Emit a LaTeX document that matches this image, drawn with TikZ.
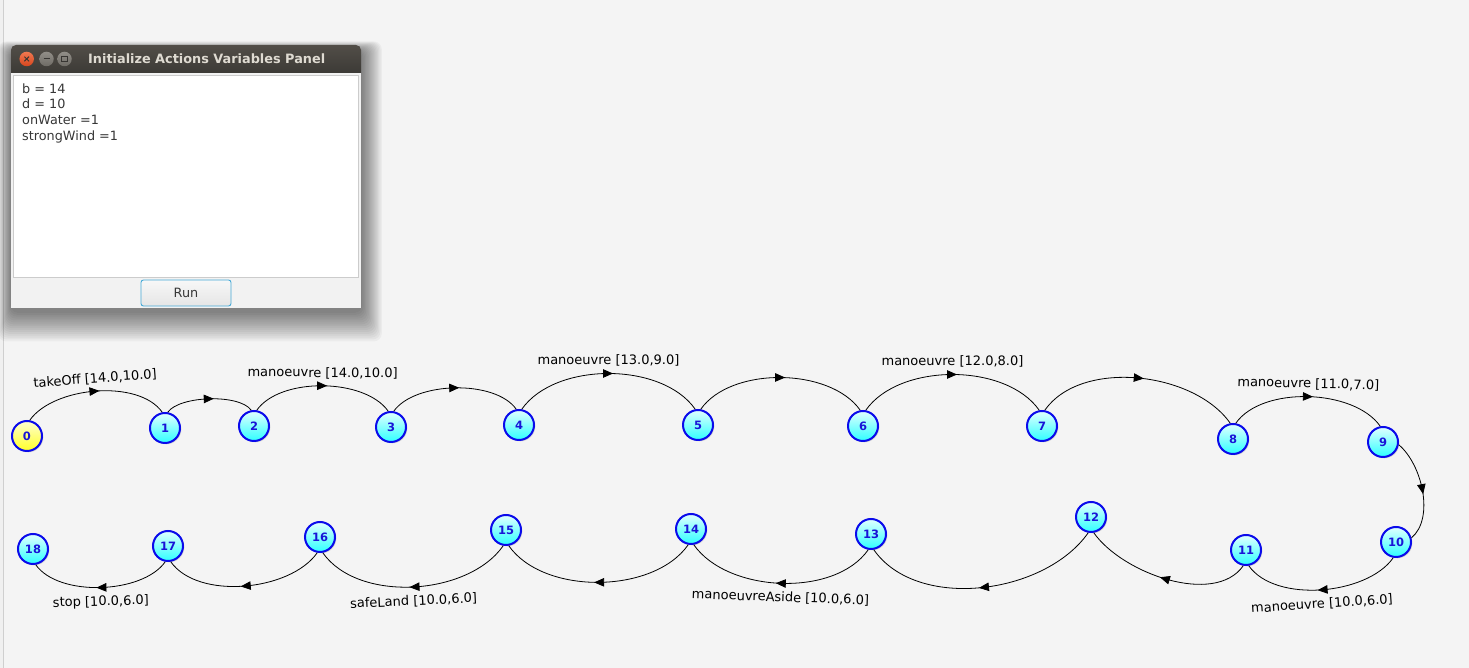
\documentclass[tikz,border=0pt]{standalone}
\usepackage{fontspec}
\setmainfont{DejaVu Sans}
\usetikzlibrary{arrows.meta,decorations.markings,shadows}
\definecolor{bg}{RGB}{244,244,244}
\definecolor{winbg}{RGB}{242,242,242}
\definecolor{nodeblue}{RGB}{10,10,235}
\definecolor{labblue}{RGB}{25,20,215}
\definecolor{tbtop}{RGB}{82,78,72}
\definecolor{tbbot}{RGB}{60,58,54}
\definecolor{titletext}{RGB}{223,219,210}
\definecolor{closeA}{RGB}{240,120,80}
\definecolor{closeB}{RGB}{215,70,30}
\definecolor{btnA}{RGB}{145,142,136}
\definecolor{btnB}{RGB}{110,107,101}
\definecolor{symb}{RGB}{55,53,50}
\definecolor{wintext}{RGB}{55,55,55}
\definecolor{runblue}{RGB}{70,170,215}
\begin{document}
\begin{tikzpicture}[x=1pt,y=1pt,
  st/.style={circle, minimum size=30pt, inner sep=0pt, line width=2pt,
    draw=nodeblue, top color=cyan!12!white, bottom color=cyan!82!white,
    drop shadow={shadow xshift=1.3pt,shadow yshift=-1.3pt,opacity=0.3},
    font=\fontsize{11.5}{11.5}\selectfont\bfseries, text=labblue},
  init/.style={st, top color=yellow!18!white, bottom color=yellow!85!white},
  tr/.style={line width=0.8pt, black, postaction={decorate},
    decoration={markings, mark=at position 0.5 with {\arrow[xshift=4.5pt]{Triangle[length=10pt,width=8.5pt]}}}},
  lab/.style={font=\fontsize{13}{13}\selectfont, inner sep=2pt, sloped, text=black},
  wtxt/.style={anchor=base west, inner sep=0pt, font=\fontsize{12.8}{13}\selectfont, text=wintext},
  tbtn/.style={circle, minimum size=14.5pt, inner sep=0pt},
]
\useasboundingbox (0,0) rectangle (1469,668);
\fill[bg] (0,0) rectangle (1469,668);
\fill[gray!12] (0,0) rectangle (3,668);
\draw[gray!38, line width=1pt] (3.5,0) -- (3.5,668);

% window shadow
\foreach \i in {1,...,16} {
  \fill[black, opacity=0.036, rounded corners=8pt] (11-0.8*\i,357-1.9*\i) rectangle (361+1.3*\i,617+0.6*\i);
}
% window
\fill[winbg] (11,360) rectangle (361,595);
\path[top color=tbtop, bottom color=tbbot] (11,595) -- (11,618) arc[start angle=180,end angle=90,radius=5] -- (356,623) arc[start angle=90,end angle=0,radius=5] -- (361,595) -- cycle;
\node[text=titletext, inner sep=0pt] (title) at (206.7,609) {\resizebox{237pt}{!}{\bfseries Initialize Actions Variables Panel}};
\node[tbtn, top color=closeA, bottom color=closeB] (bclose) at (26.7,609) {};
\draw[symb, line width=1pt] ([shift={(-2.3,-2.3)}]bclose.center) -- ([shift={(2.3,2.3)}]bclose.center);
\draw[symb, line width=1pt] ([shift={(-2.3,2.3)}]bclose.center) -- ([shift={(2.3,-2.3)}]bclose.center);
\node[tbtn, top color=btnA, bottom color=btnB] (bmin) at (46.5,609) {};
\draw[symb, line width=1pt] ([xshift=-3pt]bmin.center) -- ([xshift=3pt]bmin.center);
\node[tbtn, top color=btnA, bottom color=btnB] (bmax) at (64.5,609) {};
\draw[symb, line width=0.9pt] ([shift={(-2.8,-2.8)}]bmax.center) rectangle ([shift={(2.8,2.8)}]bmax.center);
\filldraw[fill=white, draw=gray!40, line width=0.8pt] (13.5,391) rectangle (358.5,592.5);
\node[wtxt] (v1) at (22,574.7) {b = 14};
\node[wtxt] (v2) at (22,559) {d = 10};
\node[wtxt] (v3) at (22,543) {onWater =1};
\node[wtxt] (v4) at (22,527.3) {strongWind =1};
\node[draw=runblue, line width=0.9pt, rounded corners=2.5pt, top color=white!97!black, bottom color=black!10,
  minimum width=90pt, minimum height=26pt, inner sep=0pt, font=\fontsize{12.8}{13}\selectfont, text=wintext] (run) at (186,375) {Run};

% states
\node[init] (n0) at (27,232) {0};
\node[st] (n1) at (165,240) {1};
\node[st] (n2) at (254,242) {2};
\node[st] (n3) at (391,241) {3};
\node[st] (n4) at (519,243) {4};
\node[st] (n5) at (698,243) {5};
\node[st] (n6) at (863,242) {6};
\node[st] (n7) at (1042,242) {7};
\node[st] (n8) at (1233,229) {8};
\node[st] (n9) at (1383,226) {9};
\node[st] (n10) at (1396,126) {10};
\node[st] (n11) at (1246,118) {11};
\node[st] (n12) at (1091,151) {12};
\node[st] (n13) at (871,134) {13};
\node[st] (n14) at (691,139) {14};
\node[st] (n15) at (506,138) {15};
\node[st] (n16) at (320,131) {16};
\node[st] (n17) at (168,122) {17};
\node[st] (n18) at (33,119) {18};

% transitions, top row
\draw[tr] (n0.80) to[out=55,in=125,looseness=0.79] node[lab,above=4pt]{takeOff [14.0,10.0]} (n1.100);
\draw[tr] (n1.80) to[out=55,in=125,looseness=0.62] (n2.100);
\draw[tr] (n2.80) to[out=55,in=125,looseness=0.79] node[lab,above=4.5pt]{manoeuvre [14.0,10.0]} (n3.100);
\draw[tr] (n3.80) to[out=55,in=125,looseness=0.76] (n4.100);
\draw[tr] (n4.80) to[out=55,in=125,looseness=0.86] node[lab,above=4.5pt]{manoeuvre [13.0,9.0]} (n5.100);
\draw[tr] (n5.80) to[out=55,in=125,looseness=0.84] (n6.100);
\draw[tr] (n6.80) to[out=55,in=125,looseness=0.86] node[lab,above=4.5pt]{manoeuvre [12.0,8.0]} (n7.100);
\draw[tr] (n7.80) to[out=55,in=125,looseness=0.87] (n8.100);
\draw[tr] (n8.80) to[out=55,in=125,looseness=0.81] node[lab,above=4.5pt]{manoeuvre [11.0,7.0]} (n9.100);
% right turn
\draw[tr] (n9.-10) to[out=-40,in=40,looseness=0.83] (n10.15);
% bottom row
\draw[tr] (n10.-100) to[out=-125,in=-55,looseness=0.81] node[lab,below=6pt]{manoeuvre [10.0,6.0]} (n11.-80);
\draw[tr] (n11.-100) to[out=-125,in=-55,looseness=0.83] (n12.-80);
\draw[tr] (n12.-100) to[out=-125,in=-55,looseness=0.90] (n13.-80);
\draw[tr] (n13.-100) to[out=-125,in=-55,looseness=0.86] node[lab,below=6pt]{manoeuvreAside [10.0,6.0]} (n14.-80);
\draw[tr] (n14.-100) to[out=-125,in=-55,looseness=0.86] (n15.-80);
\draw[tr] (n15.-100) to[out=-125,in=-55,looseness=0.87] node[lab,below=6pt]{safeLand [10.0,6.0]} (n16.-80);
\draw[tr] (n16.-100) to[out=-125,in=-55,looseness=0.82] (n17.-80);
\draw[tr] (n17.-100) to[out=-125,in=-55,looseness=0.78] node[lab,below=6pt]{stop [10.0,6.0]} (n18.-80);
\end{tikzpicture}
\end{document}
